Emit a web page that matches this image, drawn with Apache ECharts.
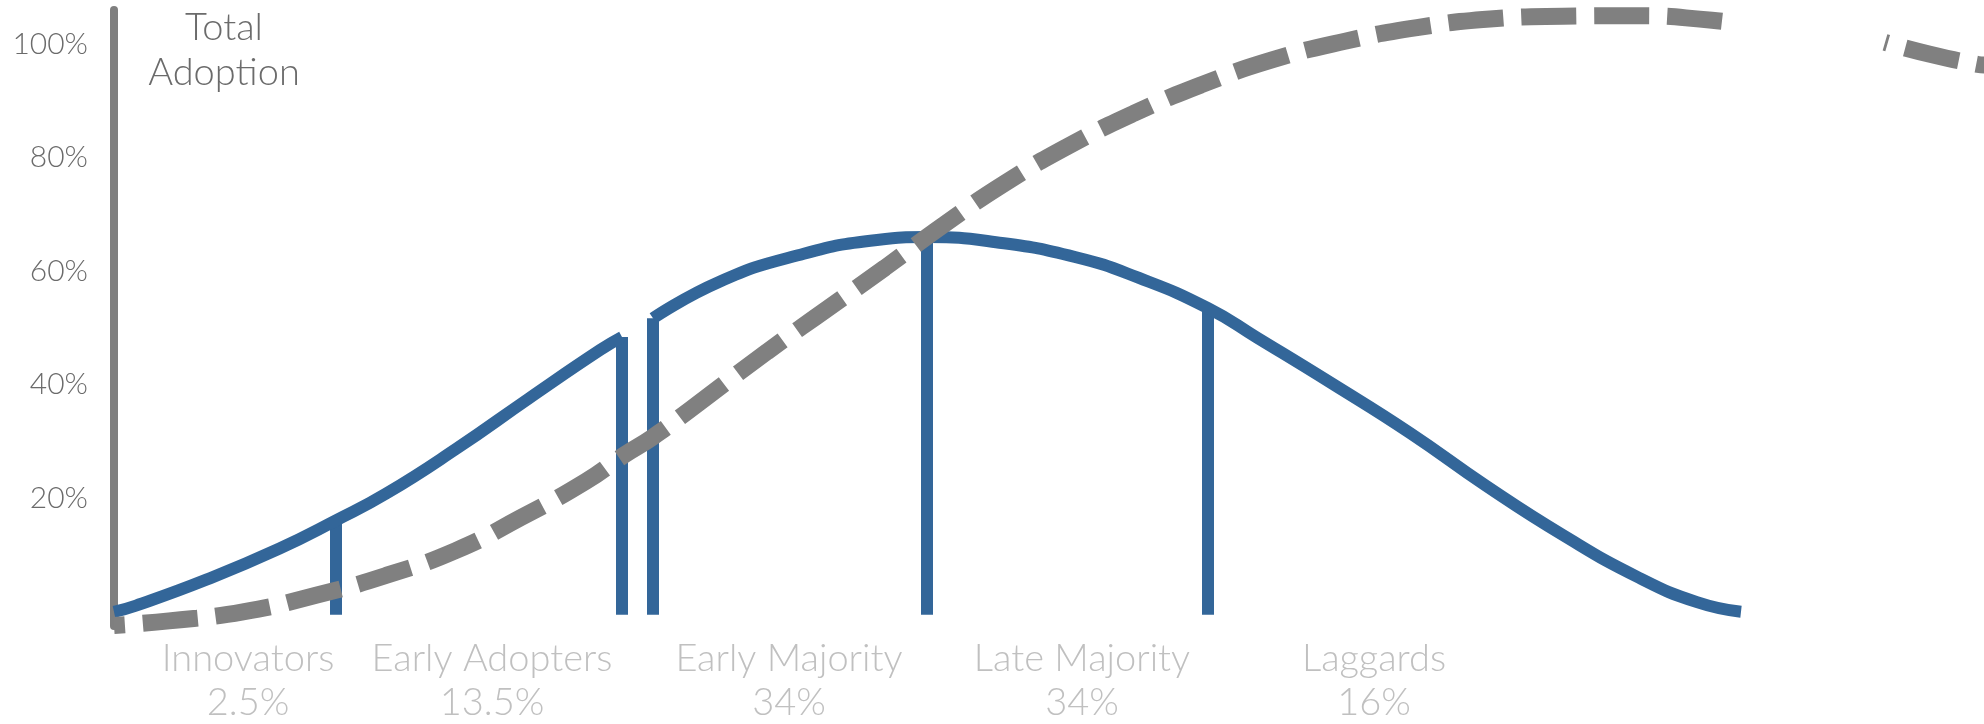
<!DOCTYPE html>
<html>
<head>
<meta charset="utf-8">
<title>Diffusion of Innovations</title>
<script src="https://cdn.jsdelivr.net/npm/echarts@6/dist/echarts.min.js"></script>
<style>
  html, body { margin: 0; padding: 0; background: #fff; }
  #chart { width: 1984px; height: 724px; }
</style>
</head>
<body>
<div id="chart"></div>
<script>
// x = position along the adoption timeline (arbitrary units), y = percent
const segmentNames = ['Innovators', 'Early Adopters', 'Early Majority', 'Late Majority', 'Laggards'];
const segmentShares = ['2.5%', '13.5%', '34%', '34%', '16%'];
const segmentLabelX = [13.4, 37.8, 67.5, 96.8, 126];
const yTicks = [20, 40, 60, 80, 100];

// bell curve, split at the early adopters / early majority gap
const bellLeft = [
  [0, 0], [2.2, 1.1], [9.3, 5.7], [16.5, 11.1], [22.2, 16.1], [27.2, 20.8],
  [34.3, 28.8], [41.5, 37.6], [48.6, 46.1], [50.8, 48.4]
];
const bellRight = [
  [53.9, 51.7], [60.5, 58.1], [68.4, 62.8], [76.3, 65.5], [81.3, 66], [88.2, 65.1],
  [96.1, 62.5], [102.5, 58.8], [109.4, 53.5], [114.3, 48.3], [121.9, 40.1], [129.6, 31.5],
  [137.2, 22.2], [144.9, 13.5], [152.5, 6], [158.3, 1.7], [162.7, 0]
];

// segment dividers
const dividerX = [22.2, 50.8, 53.9, 81.3, 109.4];
const dividerTop = [16.1, 48.4, 51.7, 66, 53.5];
const dividerBottom = -0.5;

// cumulative adoption (dashed), with a gap near the right edge
const adoptionHead = [
  [0, -2.4], [5.5, -1.6], [12.9, 0], [20.2, 2.9], [27.2, 6.4], [34.2, 10.8], [40.7, 16.6],
  [47.2, 23], [51, 27.6], [53.9, 30.8], [57.6, 35.6], [65.3, 45.8], [71.2, 53.2],
  [77.1, 60.6], [83, 68.2], [89, 75.4], [95.3, 81.9], [102, 87.8], [108.7, 92.8],
  [115.8, 97.2], [123.1, 100.5], [130.3, 102.9], [137.6, 104.4],
  [144.9, 104.9], [152.3, 105], [159.8, 104.2], [162.5, 103.6]
];
const adoptionTail = [[177.1, 100.3], [181.6, 98.2], [186.4, 96.4], [187, 96.3]];

const blue = '#336699';
const gray = '#808080';

const chart = echarts.init(document.getElementById('chart'));

const dividerSeries = dividerX.map((x, i) => ({
  type: 'line',
  data: [[x, dividerBottom], [x, dividerTop[i]]],
  symbol: 'none',
  clip: false,
  z: 2,
  lineStyle: { color: blue, width: 12, cap: 'butt' }
}));

const bellStyle = { color: blue, width: 12, join: 'round' };
const dashStyle = { color: gray, width: 17, type: [55, 18], cap: 'butt' };

const option = {
  animation: false,
  title: {
    text: 'Total\nAdoption',
    left: 224,
    top: 5,
    padding: 0,
    textAlign: 'center',
    textStyle: {
      fontFamily: 'Lato, sans-serif',
      fontWeight: 300,
      fontSize: 38,
      lineHeight: 45,
      color: '#6b6b6b'
    }
  },
  grid: {
    left: 114,
    right: 0,
    top: 10,
    bottom: 98,
    containLabel: false,
    outerBoundsMode: 'none'
  },
  xAxis: {
    type: 'value',
    min: 0,
    max: 187,
    axisLine: { show: false },
    axisTick: { show: false },
    splitLine: { show: false },
    axisLabel: {
      customValues: segmentLabelX,
      margin: 11,
      fontFamily: 'Lato, sans-serif',
      fontWeight: 300,
      fontSize: 38,
      lineHeight: 44,
      color: '#c0c0c0',
      formatter: (v) => {
        const i = segmentLabelX.indexOf(v);
        return i < 0 ? '' : segmentNames[i] + '\n' + segmentShares[i];
      }
    }
  },
  yAxis: {
    type: 'value',
    min: -2.5,
    max: 106,
    axisLine: { show: true, lineStyle: { color: '#7f7f7f', width: 8 } },
    axisTick: { show: false },
    splitLine: { show: false },
    axisLabel: {
      customValues: yTicks,
      margin: 26,
      fontFamily: 'Lato, sans-serif',
      fontWeight: 300,
      fontSize: 30,
      color: '#6b6b6b',
      formatter: '{value}%'
    }
  },
  series: [
    ...dividerSeries,
    {
      type: 'line',
      data: bellLeft,
      smooth: 0.5,
      symbol: 'none',
      clip: false,
      z: 3,
      lineStyle: bellStyle
    },
    {
      type: 'line',
      data: bellRight,
      smooth: 0.5,
      symbol: 'none',
      clip: false,
      z: 3,
      lineStyle: bellStyle
    },
    {
      type: 'line',
      data: adoptionHead,
      smooth: 0.5,
      symbol: 'none',
      clip: false,
      z: 4,
      lineStyle: { ...dashStyle, dashOffset: 44 }
    },
    {
      type: 'line',
      data: adoptionTail,
      smooth: 0.5,
      symbol: 'none',
      clip: false,
      z: 4,
      lineStyle: { ...dashStyle, dashOffset: 52 }
    }
  ]
};

chart.setOption(option);
window.addEventListener('resize', () => chart.resize());
</script>
</body>
</html>
